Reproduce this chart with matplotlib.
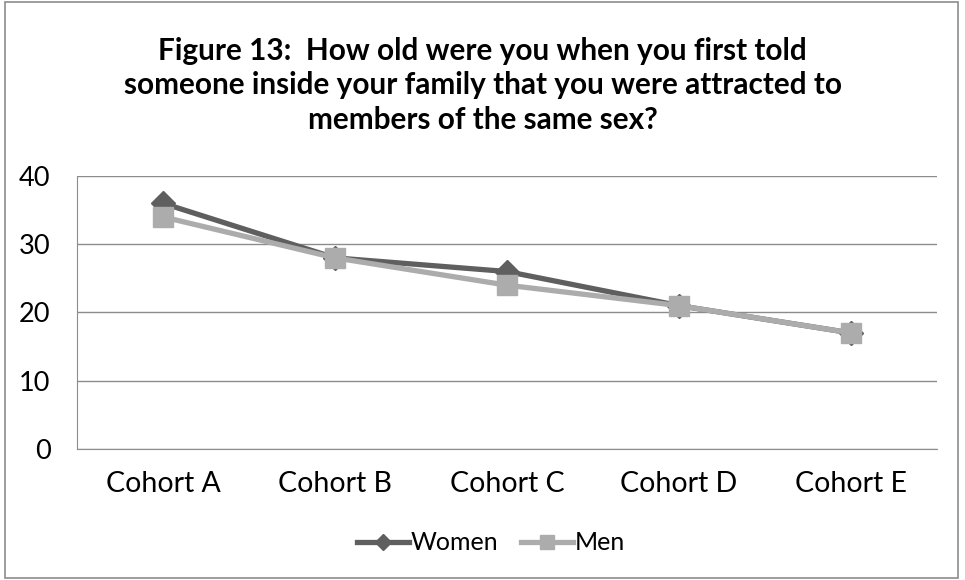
import matplotlib
matplotlib.use('Agg')
import matplotlib.pyplot as plt
from matplotlib.patches import Rectangle

# данные
cohorts = ['Cohort A', 'Cohort B', 'Cohort C', 'Cohort D', 'Cohort E']
women = [36, 28, 26, 21, 17]
men = [34, 28, 24, 21, 17]
y_ticks = [0, 10, 20, 30, 40]

title = ("Figure 13:  How old were you when you first told\n"
         "someone inside your family that you were attracted to\n"
         "members of the same sex?")

plt.rcParams['font.family'] = ['Lato', 'DejaVu Sans']

fig = plt.figure(figsize=(9.65, 5.8), dpi=100)
ax = fig.add_axes([0.0798, 0.2259, 0.8912, 0.4707])

x = list(range(len(cohorts)))
ax.plot(x, women, color='#5f5f5f', linewidth=3.8, marker='D', markersize=12,
        label='Women', zorder=3)
ax.plot(x, men, color='#acacac', linewidth=3.8, marker='s', markersize=14.5,
        label='Men', zorder=4)

ax.set_xlim(-0.5, len(cohorts) - 0.5)
ax.set_ylim(0, 40)
ax.set_yticks(y_ticks)
ax.set_xticks(x)
ax.set_xticklabels(cohorts)
ax.tick_params(axis='x', length=0, labelsize=20.5, colors='black', pad=16)
ax.tick_params(axis='y', length=0, labelsize=19.5, colors='black', pad=19)
ax.grid(which='major', axis='y', color='#8c8c8c', linewidth=1)
ax.set_axisbelow(True)
for side in ['top', 'right']:
    ax.spines[side].set_visible(False)
for side in ['left', 'bottom']:
    ax.spines[side].set_color('#8c8c8c')

fig.text(0.5, 0.853, title, ha='center', va='center', fontsize=21.4,
         fontweight='bold', linespacing=1.28)

leg = ax.legend(loc='center', bbox_to_anchor=(0.481, -0.344), ncol=2, frameon=False,
                fontsize=18, handlelength=2.1, handletextpad=0.05,
                columnspacing=0.9, markerscale=0.7)

fig.patches.append(Rectangle((0.005, 0.004), 0.988, 0.992, transform=fig.transFigure,
                             fill=False, edgecolor='#8c8c8c', linewidth=1.2))

fig.savefig('out.png', dpi=100)
